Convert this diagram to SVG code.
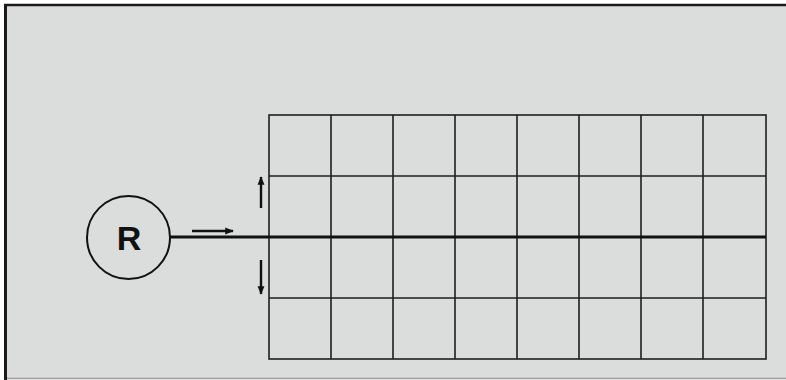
<svg xmlns="http://www.w3.org/2000/svg" width="786" height="380" viewBox="0 0 786 380">
<defs>
<style>
.grid{stroke:#1e1e1e;stroke-width:1.6;fill:none}
.main{stroke:#111;stroke-width:3;fill:none}
.arr{stroke:#111;stroke-width:2.4;fill:none}
.lbl{font-family:"Liberation Sans",Arial,sans-serif;font-weight:bold;font-size:34px;fill:#111}
</style>
<marker id="ah" viewBox="0 0 10 10" refX="9" refY="5" markerWidth="3.6" markerHeight="3.6" orient="auto" markerUnits="strokeWidth">
<path d="M0,1 L10,5 L0,9 z" fill="#111"/>
</marker>
</defs>
<rect x="0" y="0" width="786" height="380" fill="#ffffff"/>
<rect x="5" y="4" width="781" height="375" fill="#dbdddc"/>
<line x1="5.5" y1="4" x2="5.5" y2="380" stroke="#1a1a1a" stroke-width="3"/>
<line x1="4" y1="5" x2="786" y2="5" stroke="#1a1a1a" stroke-width="2.5"/>
<line x1="7" y1="378.5" x2="786" y2="378.5" stroke="#9a9c9b" stroke-width="1.5"/>
<g id="grid">
<rect class="grid" x="269" y="115" width="497" height="244"/>
<path class="grid" d="M331,115V359M393,115V359M455,115V359M517,115V359M579,115V359M641,115V359M703,115V359M269,176H766M269,298H766"/>
</g>
<g id="node-R">
<circle cx="128.5" cy="237.5" r="41.5" fill="none" stroke="#111" stroke-width="2"/>
<text class="lbl" x="129" y="250" text-anchor="middle">R</text>
</g>
<g id="connectors">
<line class="main" x1="170" y1="237" x2="766" y2="237"/>
<line class="arr" x1="192" y1="231" x2="233" y2="231" marker-end="url(#ah)"/>
<line class="arr" x1="261" y1="208" x2="261" y2="177" marker-end="url(#ah)"/>
<line class="arr" x1="261" y1="260" x2="261" y2="294" marker-end="url(#ah)"/>
</g>
</svg>
